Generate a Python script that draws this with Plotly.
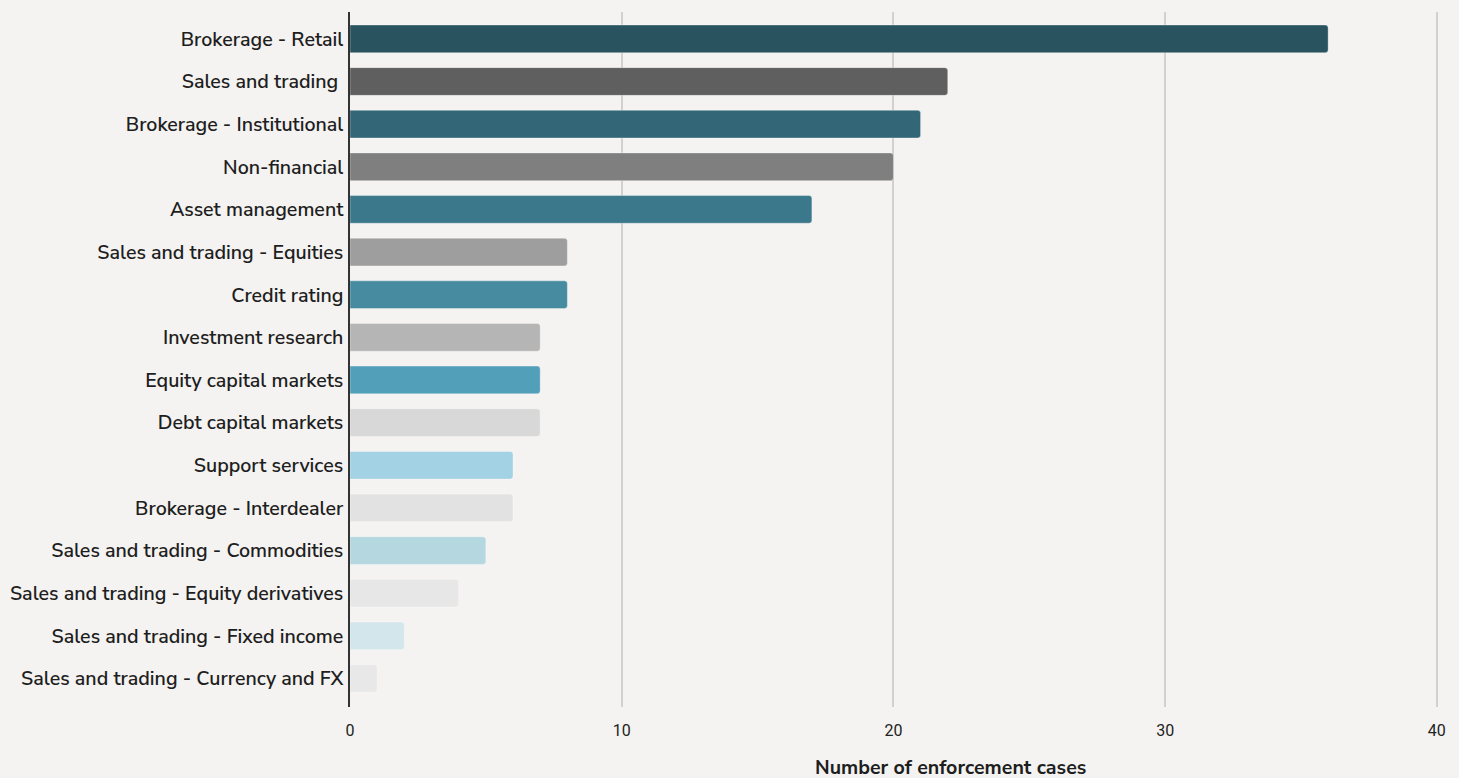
import plotly.graph_objects as go

categories = [
    "Brokerage - Retail",
    "Sales and trading\u00a0",
    "Brokerage - Institutional",
    "Non-financial",
    "Asset management",
    "Sales and trading - Equities",
    "Credit rating",
    "Investment research",
    "Equity capital markets",
    "Debt capital markets",
    "Support services",
    "Brokerage - Interdealer",
    "Sales and trading - Commodities",
    "Sales and trading - Equity derivatives",
    "Sales and trading - Fixed income",
    "Sales and trading - Currency and FX",
]
values = [36, 22, 21, 20, 17, 8, 8, 7, 7, 7, 6, 6, 5, 4, 2, 1]
colors = [
    "#28535f", "#5f5f5f", "#336677", "#7f7f7f", "#3c788b", "#9e9e9e",
    "#478ba0", "#b5b5b5", "#529fba", "#d8d8d8", "#a2d2e3", "#e3e2e2",
    "#b5d7e0", "#e7e7e7", "#d3e6eb", "#e9e8e8",
]
x_ticks = [0, 10, 20, 30, 40]
x_title = "Number of enforcement cases"

bg = "#f4f3f1"
label_font = "Nunito Sans, Lato, Noto Sans, sans-serif"

fig = go.Figure(
    go.Bar(
        x=values,
        y=categories,
        orientation="h",
        marker=dict(color=colors, cornerradius=3,
                    line=dict(color="rgba(255,255,255,0.35)", width=1)),
        width=0.65,
        hoverinfo="x+y",
    )
)

fig.update_layout(
    width=1459,
    height=778,
    paper_bgcolor=bg,
    plot_bgcolor=bg,
    margin=dict(l=350, r=20, t=12, b=71, autoexpand=False),
    showlegend=False,
    xaxis=dict(
        range=[0, 40.08],
        tickvals=x_ticks,
        showgrid=True,
        gridcolor="#d2d1cf",
        gridwidth=1.5,
        zeroline=False,
        showline=False,
        ticks="",
        ticklabelstandoff=12,
        automargin=False,
        tickfont=dict(family="Roboto, sans-serif", size=16, color="#222222"),
    ),
    yaxis=dict(
        categoryorder="array",
        categoryarray=categories,
        range=[15.67, -0.63],
        showgrid=False,
        zeroline=False,
        showline=True,
        linecolor="#333333",
        linewidth=1.5,
        ticks="",
        ticklabelstandoff=1,
        automargin=False,
        tickfont=dict(family=label_font, size=19.6, color="#1e1e1e", weight=600),
    ),
    annotations=[
        dict(
            text=x_title,
            xref="paper", yref="paper",
            x=0.551, y=-0.087,
            xanchor="center", yanchor="middle",
            showarrow=False,
            font=dict(family=label_font, size=19.6, color="#1e1e1e", weight=700),
        )
    ],
)

fig.write_html(
    "out.html",
    config={"displayModeBar": False},
    post_script="document.body.style.margin='0';document.body.style.overflow='hidden';",
)
